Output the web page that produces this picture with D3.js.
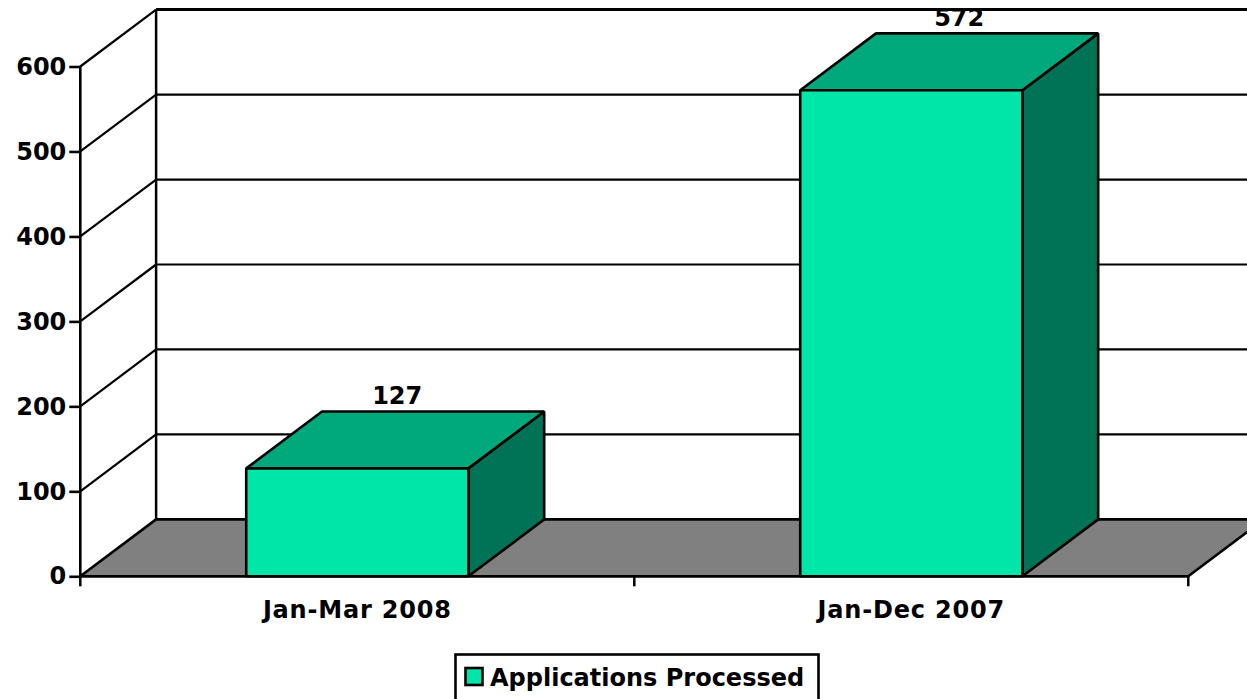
<!DOCTYPE html>
<html>
<head>
<meta charset="utf-8">
<script src="https://cdn.jsdelivr.net/npm/d3@7"></script>
<style>
	html, body { margin: 0; padding: 0; background: #fff; overflow: hidden; }
	svg { display: block; }
	text { font-family: "DejaVu Sans", sans-serif; font-weight: bold; fill: #000; }
</style>
</head>
<body>
<div id="chart"></div>
<script>
const categories = ["Jan-Mar 2008", "Jan-Dec 2007"];
const values = [127, 572];
const yTicks = [0, 100, 200, 300, 400, 500, 600];
const seriesName = "Applications Processed";

const width = 1247, height = 699;
// decalage de la perspective 3D
const depth = { x: 75.8, y: -56.9 };
const colors = { front: "#00e6a8", top: "#00a97b", side: "#007255", floor: "#808080" };

const svg = d3.select("#chart").append("svg")
	.attr("width", width)
	.attr("height", height);

const x = d3.scaleBand().domain(categories).range([80.3, 1188.3]).paddingInner(0.599).paddingOuter(0.2995);
const xEdges = d3.scaleLinear().domain([0, categories.length]).range([80.3, 1188.3]);
const y = d3.scaleLinear().domain([0, 600]).range([576.3, 66.5]);

const poly = pts => pts.map(p => p.join(",")).join(" ");
// les etiquettes de valeur ne sont pas tout a fait centrees sur le haut des barres
const labelNudge = i => i === 0 ? 2 : 10;

// sol
svg.append("polygon")
	.attr("points", poly([
		[xEdges(0), y(0)],
		[xEdges(0) + depth.x, y(0) + depth.y],
		[xEdges(2) + depth.x, y(0) + depth.y],
		[xEdges(2), y(0)]
	]))
	.attr("fill", colors.floor)
	.attr("stroke", "#000")
	.attr("stroke-width", 2.6);

// grille : mur gauche et mur du fond
const grid = svg.append("g").attr("stroke", "#000").attr("stroke-width", 2.2);
grid.selectAll("line.side")
	.data(yTicks.slice(1))
	.join("line")
	.attr("class", "side")
	.attr("x1", xEdges(0))
	.attr("y1", d => y(d))
	.attr("x2", xEdges(0) + depth.x)
	.attr("y2", d => y(d) + depth.y);
grid.selectAll("line.back")
	.data(yTicks.slice(1))
	.join("line")
	.attr("class", "back")
	.attr("x1", xEdges(0) + depth.x)
	.attr("y1", d => y(d) + depth.y)
	.attr("x2", xEdges(2) + depth.x)
	.attr("y2", d => y(d) + depth.y)
	.attr("stroke-width", d => d === 600 ? 3 : 2.2);

// axes verticaux
svg.append("line")
	.attr("x1", xEdges(0) + depth.x).attr("x2", xEdges(0) + depth.x)
	.attr("y1", y(600) + depth.y).attr("y2", y(0) + depth.y)
	.attr("stroke", "#000").attr("stroke-width", 2.5);
svg.append("line")
	.attr("x1", xEdges(0)).attr("x2", xEdges(0))
	.attr("y1", y(600)).attr("y2", y(0))
	.attr("stroke", "#000").attr("stroke-width", 2.6);

// barres
const bars = svg.append("g")
	.selectAll("g")
	.data(categories.map((c, i) => ({ name: c, value: values[i] })))
	.join("g")
	.attr("stroke", "#000")
	.attr("stroke-width", 2.6)
	.attr("stroke-linejoin", "bevel");

bars.append("polygon")
	.attr("fill", colors.side)
	.attr("points", d => {
		const r = x(d.name) + x.bandwidth();
		return poly([[r, y(d.value)], [r + depth.x, y(d.value) + depth.y], [r + depth.x, y(0) + depth.y], [r, y(0)]]);
	});
bars.append("polygon")
	.attr("fill", colors.top)
	.attr("points", d => {
		const l = x(d.name), r = l + x.bandwidth();
		return poly([[l, y(d.value)], [l + depth.x, y(d.value) + depth.y], [r + depth.x, y(d.value) + depth.y], [r, y(d.value)]]);
	});
bars.append("rect")
	.attr("fill", colors.front)
	.attr("x", d => x(d.name))
	.attr("y", d => y(d.value))
	.attr("width", x.bandwidth())
	.attr("height", d => y(0) - y(d.value));

// valeurs
svg.append("g")
	.selectAll("text")
	.data(values)
	.join("text")
	.attr("x", (d, i) => x(categories[i]) + x.bandwidth() / 2 + depth.x / 2 + labelNudge(i))
	.attr("y", d => y(d) + depth.y - 7)
	.attr("text-anchor", "middle")
	.attr("font-size", 24)
	.text(d => d);

// axe y
const yAxis = svg.append("g").attr("transform", "translate(" + xEdges(0) + ",0)");
yAxis.call(d3.axisLeft(y).tickValues(yTicks).tickSize(11).tickPadding(3));
yAxis.select(".domain").remove();
yAxis.selectAll("line").attr("stroke", "#000").attr("stroke-width", 2.6);
yAxis.selectAll("text")
	.attr("font-size", 24);
yAxis.attr("font-family", null).attr("font-size", null);

// axe x
const xAxis = svg.append("g");
xAxis.append("line")
	.attr("x1", xEdges(0)).attr("x2", xEdges(2))
	.attr("y1", y(0)).attr("y2", y(0))
	.attr("stroke", "#000").attr("stroke-width", 2.6);
xAxis.selectAll("line.tick")
	.data(d3.range(categories.length + 1))
	.join("line")
	.attr("class", "tick")
	.attr("x1", d => xEdges(d)).attr("x2", d => xEdges(d))
	.attr("y1", y(0)).attr("y2", y(0) + 10)
	.attr("stroke", "#000").attr("stroke-width", 2.5);
xAxis.selectAll("text")
	.data(categories)
	.join("text")
	.attr("x", d => x(d) + x.bandwidth() / 2)
	.attr("y", 618)
	.attr("text-anchor", "middle")
	.attr("font-size", 24)
	.attr("letter-spacing", 0.8)
	.text(d => d);

// legende
const legend = svg.append("g");
legend.append("rect")
	.attr("x", 455.5).attr("y", 654.5).attr("width", 363).attr("height", 60)
	.attr("fill", "#fff").attr("stroke", "#000").attr("stroke-width", 2.6);
legend.append("rect")
	.attr("x", 465.5).attr("y", 668).attr("width", 17).attr("height", 17)
	.attr("fill", colors.front).attr("stroke", "#000").attr("stroke-width", 2.6);
legend.append("text")
	.attr("x", 490).attr("y", 686)
	.attr("font-size", 24)
	.text(seriesName);
</script>
</body>
</html>
